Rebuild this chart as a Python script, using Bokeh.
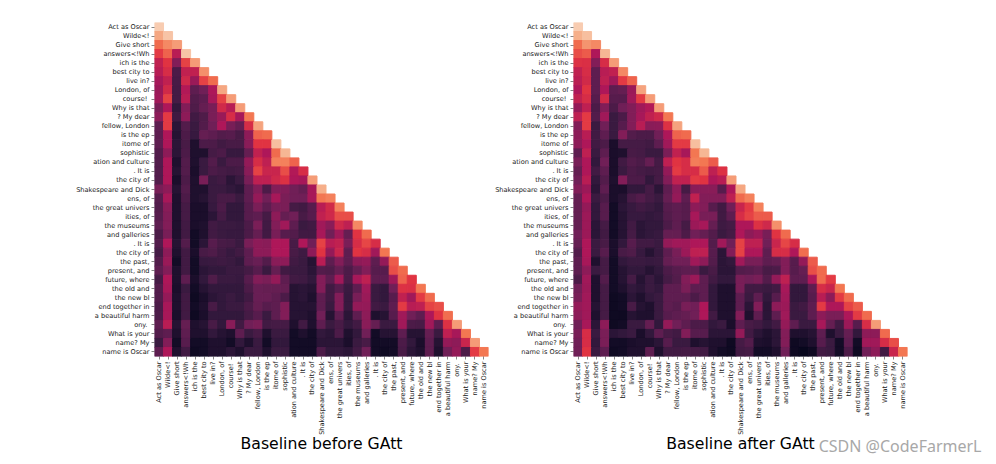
from bokeh.plotting import figure
from bokeh.layouts import row
from bokeh.models import LinearColorMapper, ColumnDataSource, FixedTicker, Title
from bokeh.transform import transform
from bokeh.embed import file_html
from bokeh.resources import INLINE
import math

tokens = ["Act as Oscar", "Wilde<!", "Give short", "answers<!Wh", "ich is the", "best city to", "live in?",
          "London, of", "course! ", "Why is that", "? My dear", "fellow, London", "is the ep", "itome of",
          "sophistic", "ation and culture", ". It is", "the city of", "Shakespeare and Dick", "ens, of",
          "the great univers", "ities, of", "the museums", "and galleries", ". It is", "the city of",
          "the past,", "present, and", "future, where", "the old and", "the new bl", "end together in",
          "a beautiful harm", "ony. ", "What is your", "name? My", "name is Oscar"]

before = [
[.95],
[.88,.94],
[.72,.8,.85],
[.6,.7,.45,.94],
[.48,.58,.3,.62,.85],
[.45,.55,.15,.48,.48,.82],
[.4,.48,.14,.52,.36,.62,.72],
[.37,.53,.13,.43,.2,.25,.42,.88],
[.38,.62,.13,.45,.17,.2,.4,.62,.85],
[.28,.42,.08,.3,.16,.22,.27,.53,.45,.85],
[.33,.6,.11,.33,.12,.16,.28,.36,.55,.4,.75],
[.2,.6,.07,.17,.1,.17,.25,.42,.27,.22,.55,.87],
[.2,.42,.06,.15,.09,.22,.2,.17,.18,.14,.33,.7,.72],
[.2,.42,.07,.14,.05,.15,.15,.12,.14,.14,.32,.58,.58,.93],
[.17,.33,.07,.15,.05,.05,.13,.15,.09,.09,.22,.48,.42,.72,.92],
[.17,.42,.05,.17,.05,.1,.17,.1,.15,.15,.35,.55,.47,.78,.78,.7],
[.17,.42,.06,.17,.04,.1,.15,.13,.12,.13,.32,.62,.5,.5,.65,.43,.55],
[.17,.42,.04,.15,.05,.27,.1,.12,.07,.1,.27,.47,.47,.52,.57,.42,.4,.85],
[.27,.33,.06,.17,.05,.05,.1,.1,.08,.07,.2,.3,.15,.3,.3,.25,.22,.4,.9],
[.18,.4,.05,.15,.05,.06,.1,.14,.14,.1,.2,.35,.25,.4,.28,.25,.25,.4,.75,.78],
[.17,.32,.05,.13,.04,.04,.09,.15,.08,.08,.18,.28,.2,.27,.28,.13,.12,.18,.45,.53,.78],
[.18,.3,.05,.13,.04,.04,.07,.13,.08,.08,.18,.2,.13,.33,.22,.25,.14,.18,.48,.52,.65,.65],
[.2,.3,.05,.12,.04,.05,.12,.1,.1,.09,.15,.28,.12,.3,.38,.2,.1,.12,.38,.32,.52,.47,.8],
[.15,.27,.05,.12,.03,.05,.12,.1,.09,.09,.15,.22,.12,.27,.18,.17,.12,.12,.4,.25,.38,.22,.58,.72],
[.17,.42,.06,.17,.03,.07,.18,.14,.13,.1,.27,.33,.32,.42,.42,.14,.42,.25,.62,.45,.48,.28,.55,.63,.55],
[.13,.33,.05,.12,.04,.14,.16,.12,.09,.12,.2,.33,.33,.42,.42,.14,.11,.33,.58,.35,.5,.2,.58,.55,.38,.75],
[.17,.36,.03,.12,.03,.09,.1,.11,.1,.08,.2,.23,.17,.32,.33,.12,.1,.06,.45,.2,.3,.2,.33,.35,.2,.35,.68],
[.2,.3,.05,.12,.03,.07,.08,.08,.1,.1,.13,.18,.1,.22,.12,.1,.1,.07,.17,.16,.22,.15,.22,.3,.18,.18,.65,.72],
[.13,.42,.05,.2,.04,.08,.16,.1,.1,.09,.18,.3,.28,.35,.2,.12,.11,.08,.3,.2,.38,.15,.4,.47,.2,.2,.38,.7,.58],
[.17,.4,.04,.1,.03,.06,.08,.08,.08,.08,.15,.23,.22,.22,.22,.06,.07,.06,.3,.12,.18,.1,.2,.38,.1,.08,.25,.57,.56,.75],
[.17,.35,.05,.12,.02,.04,.07,.08,.1,.08,.12,.23,.23,.2,.15,.06,.07,.05,.2,.12,.3,.09,.27,.36,.1,.08,.18,.48,.38,.6,.72],
[.15,.4,.05,.12,.03,.05,.14,.08,.1,.1,.15,.22,.18,.2,.3,.06,.06,.06,.2,.1,.3,.09,.35,.35,.12,.1,.2,.6,.45,.47,.62,.65],
[.15,.4,.04,.12,.02,.04,.08,.08,.08,.08,.13,.18,.1,.2,.3,.06,.06,.05,.25,.06,.2,.07,.2,.33,.05,.06,.18,.38,.25,.2,.42,.58,.73],
[.2,.45,.06,.22,.05,.06,.14,.08,.32,.12,.25,.28,.12,.13,.13,.05,.12,.05,.2,.1,.14,.08,.12,.32,.22,.1,.1,.38,.15,.14,.38,.2,.57,.85],
[.17,.2,.05,.2,.05,.05,.08,.06,.05,.2,.1,.14,.05,.1,.1,.03,.05,.03,.08,.07,.15,.05,.08,.25,.03,.06,.06,.2,.06,.06,.22,.1,.47,.4,.75],
[.1,.3,.03,.18,.03,.03,.05,.05,.03,.08,.05,.1,.03,.08,.08,.03,.03,.03,.07,.07,.07,.04,.1,.14,.03,.03,.03,.15,.08,.04,.2,.06,.35,.33,.5,.85],
[.2,.42,.05,.12,.02,.03,.05,.05,.07,.05,.1,.1,.05,.1,.1,.03,.03,.03,.15,.08,.08,.07,.12,.25,.03,.02,.03,.14,.07,.05,.2,.05,.25,.35,.15,.6,.75],
]

after = [
[.95],
[.9,.93],
[.72,.83,.8],
[.65,.68,.42,.92],
[.57,.56,.3,.55,.85],
[.48,.55,.2,.45,.48,.8],
[.46,.53,.2,.47,.38,.6,.7],
[.42,.58,.2,.42,.2,.22,.37,.87],
[.48,.55,.18,.53,.18,.18,.38,.6,.85],
[.35,.47,.15,.3,.15,.25,.3,.38,.43,.85],
[.47,.6,.17,.38,.1,.15,.3,.4,.48,.52,.75],
[.3,.6,.1,.25,.1,.18,.3,.45,.32,.33,.57,.87],
[.33,.45,.12,.2,.1,.3,.17,.15,.15,.25,.42,.7,.72],
[.33,.42,.12,.15,.04,.13,.13,.13,.12,.2,.38,.6,.6,.93],
[.2,.47,.1,.2,.04,.05,.14,.13,.1,.1,.28,.48,.4,.75,.92],
[.27,.42,.08,.25,.04,.12,.17,.15,.22,.13,.47,.58,.55,.77,.75,.68],
[.22,.42,.12,.2,.04,.1,.15,.13,.12,.13,.35,.6,.55,.55,.68,.47,.57],
[.25,.45,.08,.17,.05,.3,.15,.15,.08,.13,.3,.48,.48,.6,.58,.42,.45,.85],
[.3,.37,.07,.2,.04,.04,.08,.08,.13,.07,.2,.33,.13,.32,.32,.32,.18,.42,.88],
[.22,.42,.1,.15,.04,.06,.14,.17,.13,.1,.22,.35,.2,.48,.3,.3,.3,.47,.72,.78],
[.22,.35,.08,.18,.03,.07,.09,.12,.1,.08,.18,.2,.18,.33,.3,.18,.12,.25,.5,.6,.78],
[.22,.37,.08,.18,.03,.06,.09,.09,.08,.09,.17,.2,.18,.4,.27,.27,.12,.2,.55,.62,.68,.68],
[.22,.37,.07,.13,.03,.06,.12,.07,.08,.08,.15,.2,.13,.37,.4,.22,.11,.13,.42,.42,.57,.52,.82],
[.25,.37,.07,.12,.03,.06,.13,.07,.08,.09,.22,.22,.15,.25,.22,.17,.1,.13,.42,.33,.37,.27,.58,.72],
[.22,.42,.1,.14,.04,.08,.18,.12,.12,.1,.35,.38,.38,.42,.42,.17,.38,.25,.62,.47,.47,.25,.5,.63,.55],
[.17,.42,.1,.18,.04,.14,.16,.09,.06,.09,.2,.27,.37,.47,.47,.18,.07,.3,.62,.42,.42,.2,.55,.55,.42,.73],
[.2,.4,.05,.13,.03,.08,.1,.1,.09,.1,.22,.25,.25,.38,.33,.17,.07,.08,.38,.27,.27,.2,.22,.3,.18,.35,.68],
[.2,.33,.1,.13,.03,.06,.08,.08,.06,.08,.15,.18,.2,.2,.1,.14,.07,.07,.17,.18,.2,.14,.15,.3,.18,.22,.65,.72],
[.15,.38,.05,.17,.03,.06,.13,.06,.1,.07,.13,.17,.3,.37,.2,.12,.08,.08,.27,.25,.27,.17,.35,.47,.2,.2,.42,.72,.6],
[.25,.37,.05,.13,.03,.05,.08,.07,.1,.08,.2,.2,.28,.2,.2,.08,.05,.05,.27,.12,.12,.1,.12,.4,.08,.08,.2,.55,.5,.75],
[.27,.38,.05,.13,.02,.03,.07,.05,.08,.1,.2,.2,.2,.15,.2,.08,.05,.05,.2,.1,.2,.08,.18,.38,.08,.08,.18,.45,.33,.6,.72],
[.35,.38,.06,.13,.02,.03,.14,.06,.05,.1,.2,.18,.27,.25,.42,.08,.05,.05,.2,.07,.3,.07,.33,.37,.1,.12,.2,.6,.42,.42,.62,.68],
[.33,.38,.05,.13,.02,.02,.06,.05,.05,.1,.18,.2,.22,.25,.42,.12,.05,.05,.3,.05,.2,.07,.2,.38,.1,.1,.2,.33,.28,.28,.42,.6,.72],
[.25,.4,.07,.33,.02,.03,.1,.1,.22,.08,.35,.25,.2,.15,.15,.08,.1,.04,.2,.14,.12,.08,.12,.35,.2,.1,.1,.4,.22,.12,.37,.18,.55,.85],
[.27,.55,.1,.28,.07,.08,.1,.04,.08,.2,.14,.12,.3,.18,.18,.07,.07,.07,.35,.12,.07,.05,.07,.3,.05,.05,.06,.2,.05,.1,.22,.08,.33,.33,.72],
[.25,.55,.08,.28,.03,.03,.04,.05,.05,.07,.18,.1,.1,.05,.06,.05,.05,.02,.13,.17,.05,.04,.07,.3,.02,.03,.05,.18,.1,.03,.2,.03,.38,.38,.55,.65],
[.25,.58,.1,.2,.02,.03,.05,.05,.2,.05,.12,.12,.13,.13,.12,.05,.03,.02,.12,.13,.03,.03,.05,.25,.02,.01,.02,.12,.1,.03,.15,.02,.25,.33,.12,.5,.75],
]

titles = ["Baseline before GAtt", "Baseline after GAtt"]
watermark = "CSDN @CodeFarmerL"

# rocket colormap anchors, interpolated to a 256-entry palette
anchors = [(0.0, (3, 5, 26)), (.0833, (0x35, 0x19, 0x3e)), (.25, (0x70, 0x1f, 0x57)), (.4167, (0xad, 0x17, 0x59)),
           (.5833, (0xe1, 0x33, 0x42)), (.75, (0xf3, 0x76, 0x51)), (.9167, (0xf6, 0xb4, 0x8f)), (1.0, (0xfa, 0xeb, 0xdd))]
palette = []
for i in range(256):
    t = i / 255
    for (t0, c0), (t1, c1) in zip(anchors, anchors[1:]):
        if t0 <= t <= t1:
            f = (t - t0) / (t1 - t0)
            palette.append("#%02x%02x%02x" % tuple(round(a + (b - a) * f) for a, b in zip(c0, c1)))
            break
mapper = LinearColorMapper(palette=palette, low=0, high=1)

def panel(matrix, title, left, right):
    xs, ys, vs = [], [], []
    for r, cells in enumerate(matrix):
        for c, v in enumerate(cells):
            xs.append(c + .5); ys.append(r + .5); vs.append(v)
    src = ColumnDataSource(dict(x=xs, y=ys, v=vs))
    p = figure(frame_width=334, frame_height=334, x_range=(0, 37), y_range=(37, 0),
               output_backend="svg", toolbar_location=None, tools="",
               min_border_left=left, min_border_right=right, min_border_top=22, min_border_bottom=106)
    p.rect("x", "y", width=1, height=1, source=src, fill_color=transform("v", mapper),
           line_color=transform("v", mapper), line_width=1)
    ticks = [i + .5 for i in range(37)]
    labels = {t: s for t, s in zip(ticks, tokens)}
    for ax in (p.xaxis[0], p.yaxis[0]):
        ax.ticker = FixedTicker(ticks=ticks)
        ax.major_label_overrides = labels
        ax.major_label_text_font = "DejaVu Sans"
        ax.major_label_text_font_size = "6.6px"
        ax.major_label_text_color = "#222222"
        ax.major_label_standoff = 2
        ax.axis_line_color = None
        ax.major_tick_out = 3
        ax.major_tick_in = 0
        ax.major_tick_line_color = "#333333"
        ax.major_tick_line_width = 0.6
        ax.minor_tick_line_color = None
    p.xaxis[0].major_label_orientation = math.pi / 2
    p.xaxis[0].axis_label = title
    p.xaxis[0].axis_label_text_font = "DejaVu Sans"
    p.xaxis[0].axis_label_text_font_style = "normal"
    p.xaxis[0].axis_label_text_font_size = "15.7px"
    p.xaxis[0].axis_label_text_color = "black"
    p.xaxis[0].axis_label_standoff = -4
    p.grid.visible = False
    p.outline_line_color = None
    return p

a = panel(before, titles[0], 154, 4)
b = panel(after, titles[1], 80, 82)
b.add_layout(Title(text=watermark, align="right", offset=-74, standoff=-42, vertical_align="top",
                   text_font="Noto Sans", text_font_size="16px", text_font_style="normal",
                   text_color="#a8a8a8"), "below")
page = row(a, b)
page.spacing = 0
open("out.html", "w").write(file_html(page, INLINE))
